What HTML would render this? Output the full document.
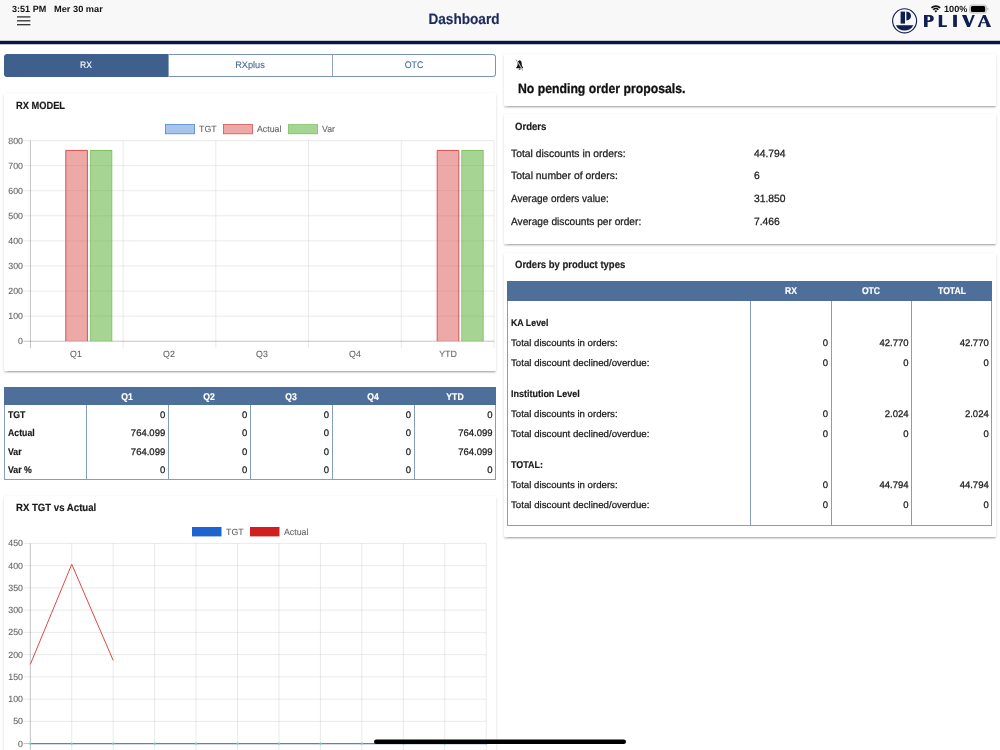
<!DOCTYPE html>
<html><head><meta charset="utf-8"><title>Dashboard</title>
<style>
*{box-sizing:border-box;margin:0;padding:0}
html,body{width:1000px;height:750px;overflow:hidden;background:#fff;font-family:"Liberation Sans",sans-serif;color:#111;text-rendering:geometricPrecision}
#w{position:absolute;left:0;top:0;width:1000px;height:750px;overflow:hidden;will-change:transform}
.abs{position:absolute}
.t{position:absolute;white-space:nowrap}
svg{font-family:"Liberation Sans",sans-serif;overflow:visible}
#hdr{position:absolute;left:0;top:0;width:1000px;height:41px;background:#f8f8f8}
.card{position:absolute;background:#fff;border-radius:1.5px;box-shadow:0 2px 1px -1.5px rgba(0,0,0,.14),0 1.5px 1.5px 0 rgba(0,0,0,.11),0 1px 3.5px 0 rgba(0,0,0,.11)}
#seg{position:absolute;left:4px;top:53.6px;width:492px;height:23.2px;box-shadow:inset 0 0 0 1px #7c93b9;border-radius:3.5px;overflow:hidden;background:#fff}
#seg div{position:absolute;top:0;height:23.2px}
</style></head><body><div id="w">
<div id="hdr"></div>
<svg class="abs" style="left:0;top:38px" width="1000" height="8" viewBox="0 38 1000 8"><rect x="0" y="40.8" width="1000" height="3.45" fill="#091545"/></svg>
<div class="t" style="top:3px;height:12px;line-height:12px;font-size:9.0px;color:#111;font-weight:bold;left:12.00px;transform-origin:0 50%;transform:scaleX(1.0055);">3:51 PM</div>
<div class="t" style="top:3px;height:12px;line-height:12px;font-size:9.0px;color:#111;font-weight:bold;left:53.60px;transform-origin:0 50%;transform:scaleX(1.0268);">Mer 30 mar</div>
<svg class="abs" style="left:16px;top:14px" width="16" height="13"><g stroke="#2a2a2a" stroke-width="1.25"><line x1="1" y1="2.9" x2="14.4" y2="2.9"/><line x1="1" y1="6.8" x2="14.4" y2="6.8"/><line x1="1" y1="10.7" x2="14.4" y2="10.7"/></g></svg>
<div class="t" style="top:10px;height:19px;line-height:19px;font-size:15.0px;color:#1b2a5a;font-weight:bold;-webkit-text-stroke:0.18px #1b2a5a;left:314.40px;width:300px;text-align:center;transform-origin:50% 50%;transform:scaleX(0.9062);">Dashboard</div>
<svg class="abs" style="left:928px;top:2px" width="64" height="14" viewBox="928 2 64 14">
  <g fill="none" stroke="#111" stroke-width="1.65">
   <path d="M931.45 7.95 A6.15 6.15 0 0 1 940.15 7.95"/>
   <path d="M933.22 9.72 A3.65 3.65 0 0 1 938.38 9.72"/>
  </g>
  <path d="M935.8 12.5 L934.35 11.05 A2.05 2.05 0 0 1 937.25 11.05 Z" fill="#111"/>
  <rect x="969.5" y="5" width="17" height="8" rx="2.4" fill="#e4e4e4" stroke="#bdbdbd" stroke-width="0.9"/>
  <rect x="970.9" y="6.05" width="14.3" height="5.9" rx="1.5" fill="#000"/>
  <rect x="987.4" y="7.7" width="1.1" height="2.7" rx=".55" fill="#bdbdbd"/>
 </svg>
<div class="t" style="top:3px;height:12px;line-height:12px;font-size:9.0px;color:#111;font-weight:bold;left:943.60px;transform-origin:0 50%;transform:scaleX(1.0166);">100%</div>
<svg class="abs" style="left:888px;top:4px" width="110" height="34" viewBox="888 4 110 34">
  <g fill="#101f52">
  <circle cx="904.6" cy="20.8" r="12" fill="none" stroke="#101f52" stroke-width="1.15"/>
  <rect x="900.6" y="11.6" width="4.4" height="12"/>
  <path d="M906.4 11.6 C909.4 11.7 911 13.6 911 16 C911 18.4 909.4 20.2 906.4 20.4 Z"/>
  <path d="M895.85 25.2 H913.35 A9.8 9.8 0 0 1 895.85 25.2 Z"/>
  <path d="M924.0 14.9 H929.4 C932.4 14.9 933.8 16.4 933.8 18.4 C933.8 20.6 932.2 21.9 929.2 21.9 H927.6 V26.95 H924.0 Z M927.6 16.4 V20.4 H928.3 C929.7 20.4 930.2 19.6 930.2 18.4 C930.2 17.2 929.7 16.4 928.3 16.4 Z" fill-rule="evenodd"/>
  <path d="M938.75 14.9 H942.2 V25.2 H946.4 L946.85 24.7 V26.95 H938.75 Z"/>
  <path d="M953.15 14.9 H956.9 V26.95 H953.15 Z"/>
  <path d="M961.95 15 H966.3 L969.35 23.3 L972.4 15 H974.8 L969.9 26.95 H967.2 Z"/>
  <path d="M977.7 26.95 L983 14.9 H985.6 L991.05 26.95 H986.6 L986 23.2 H981.1 L980.4 26.95 Z M983.5 17.65 L985.57 22.25 H981.52 Z" fill-rule="evenodd"/>
  </g>
 </svg>
<div id="seg">
 <div style="left:0;width:164.3px;background:#3f5f8c"></div>
 <div style="left:164.1px;width:1px;background:#8ba0c2"></div>
 <div style="left:328.1px;width:1px;background:#8ba0c2"></div>
</div>
<div class="t" style="top:59px;height:13px;line-height:13px;font-size:9.5px;color:#fff;-webkit-text-stroke:0.1px #fff;left:-63.70px;width:300px;text-align:center;transform-origin:50% 50%;transform:scaleX(0.9000);">RX</div>
<div class="t" style="top:59px;height:13px;line-height:13px;font-size:9.5px;color:#47689a;-webkit-text-stroke:0.1px #47689a;left:100.00px;width:300px;text-align:center;transform-origin:50% 50%;transform:scaleX(0.9700);">RXplus</div>
<div class="t" style="top:59px;height:13px;line-height:13px;font-size:9.5px;color:#47689a;-webkit-text-stroke:0.1px #47689a;left:264.20px;width:300px;text-align:center;transform-origin:50% 50%;transform:scaleX(0.9300);">OTC</div>
<div class="card" style="left:4px;top:93px;width:492px;height:277.7px"></div>
<div class="t" style="top:99px;height:14px;line-height:14px;font-size:10.5px;color:#1a1a1a;font-weight:bold;-webkit-text-stroke:0.18px #1a1a1a;left:16.00px;transform-origin:0 50%;transform:scaleX(0.8842);">RX MODEL</div>
<svg class="abs" style="left:0;top:110px" width="500" height="250" viewBox="0 110 500 250">
<line x1="23.5" y1="140.60" x2="494.0" y2="140.60" stroke="rgba(0,0,0,0.11)" stroke-width="0.8"/>
<line x1="23.5" y1="165.67" x2="494.0" y2="165.67" stroke="rgba(0,0,0,0.11)" stroke-width="0.8"/>
<line x1="23.5" y1="190.75" x2="494.0" y2="190.75" stroke="rgba(0,0,0,0.11)" stroke-width="0.8"/>
<line x1="23.5" y1="215.82" x2="494.0" y2="215.82" stroke="rgba(0,0,0,0.11)" stroke-width="0.8"/>
<line x1="23.5" y1="240.90" x2="494.0" y2="240.90" stroke="rgba(0,0,0,0.11)" stroke-width="0.8"/>
<line x1="23.5" y1="265.98" x2="494.0" y2="265.98" stroke="rgba(0,0,0,0.11)" stroke-width="0.8"/>
<line x1="23.5" y1="291.05" x2="494.0" y2="291.05" stroke="rgba(0,0,0,0.11)" stroke-width="0.8"/>
<line x1="23.5" y1="316.12" x2="494.0" y2="316.12" stroke="rgba(0,0,0,0.11)" stroke-width="0.8"/>
<line x1="123.12" y1="140.6" x2="123.12" y2="348.2" stroke="rgba(0,0,0,0.11)" stroke-width="0.8"/>
<line x1="215.84" y1="140.6" x2="215.84" y2="348.2" stroke="rgba(0,0,0,0.11)" stroke-width="0.8"/>
<line x1="308.56" y1="140.6" x2="308.56" y2="348.2" stroke="rgba(0,0,0,0.11)" stroke-width="0.8"/>
<line x1="401.28" y1="140.6" x2="401.28" y2="348.2" stroke="rgba(0,0,0,0.11)" stroke-width="0.8"/>
<line x1="494.00" y1="140.6" x2="494.00" y2="348.2" stroke="rgba(0,0,0,0.11)" stroke-width="0.8"/>
<line x1="30.4" y1="140.6" x2="30.4" y2="348.2" stroke="rgba(0,0,0,0.28)" stroke-width="0.85"/>
<line x1="23.5" y1="341.2" x2="494.0" y2="341.2" stroke="rgba(0,0,0,0.28)" stroke-width="0.85"/>
<rect x="65.80" y="150.0" width="21.60" height="191.20" fill="rgba(217,83,79,0.5)"/>
<path d="M65.80 341.2 V150.4 H87.40 V341.2" fill="none" stroke="#d9534f" stroke-width="1.0"/>
<rect x="90.30" y="150.0" width="21.60" height="191.20" fill="rgba(78,170,40,0.5)"/>
<path d="M90.30 341.2 V150.4 H111.90 V341.2" fill="none" stroke="rgba(78,170,40,0.62)" stroke-width="0.8"/>
<rect x="437.20" y="150.0" width="21.60" height="191.20" fill="rgba(217,83,79,0.5)"/>
<path d="M437.20 341.2 V150.4 H458.80 V341.2" fill="none" stroke="#d9534f" stroke-width="1.0"/>
<rect x="461.70" y="150.0" width="21.60" height="191.20" fill="rgba(78,170,40,0.5)"/>
<path d="M461.70 341.2 V150.4 H483.30 V341.2" fill="none" stroke="rgba(78,170,40,0.62)" stroke-width="0.8"/>
<rect x="165.4" y="124.6" width="29.2" height="9.2" fill="#a9c4ec" stroke="#4a86d8" stroke-width="0.8"/>
<rect x="223.4" y="124.6" width="29.2" height="9.2" fill="rgba(217,83,79,0.5)" stroke="#d9534f" stroke-width="0.8"/>
<rect x="288.4" y="124.6" width="29.2" height="9.2" fill="rgba(78,170,40,0.5)" stroke="rgba(78,170,40,0.62)" stroke-width="0.8"/>
</svg>
<div class="t" style="top:135px;height:12px;line-height:12px;font-size:9.0px;color:#666;-webkit-text-stroke:0.1px #666;right:977.30px;transform-origin:100% 50%;transform:scaleX(0.9780);">800</div>
<div class="t" style="top:160px;height:12px;line-height:12px;font-size:9.0px;color:#666;-webkit-text-stroke:0.1px #666;right:977.30px;transform-origin:100% 50%;transform:scaleX(0.9780);">700</div>
<div class="t" style="top:185px;height:12px;line-height:12px;font-size:9.0px;color:#666;-webkit-text-stroke:0.1px #666;right:977.30px;transform-origin:100% 50%;transform:scaleX(0.9780);">600</div>
<div class="t" style="top:210px;height:12px;line-height:12px;font-size:9.0px;color:#666;-webkit-text-stroke:0.1px #666;right:977.30px;transform-origin:100% 50%;transform:scaleX(0.9780);">500</div>
<div class="t" style="top:235px;height:12px;line-height:12px;font-size:9.0px;color:#666;-webkit-text-stroke:0.1px #666;right:977.30px;transform-origin:100% 50%;transform:scaleX(0.9780);">400</div>
<div class="t" style="top:260px;height:12px;line-height:12px;font-size:9.0px;color:#666;-webkit-text-stroke:0.1px #666;right:977.30px;transform-origin:100% 50%;transform:scaleX(0.9780);">300</div>
<div class="t" style="top:285px;height:12px;line-height:12px;font-size:9.0px;color:#666;-webkit-text-stroke:0.1px #666;right:977.30px;transform-origin:100% 50%;transform:scaleX(0.9780);">200</div>
<div class="t" style="top:310px;height:12px;line-height:12px;font-size:9.0px;color:#666;-webkit-text-stroke:0.1px #666;right:977.30px;transform-origin:100% 50%;transform:scaleX(0.9780);">100</div>
<div class="t" style="top:335px;height:12px;line-height:12px;font-size:9.0px;color:#666;-webkit-text-stroke:0.1px #666;right:977.30px;transform-origin:100% 50%;transform:scaleX(0.9780);">0</div>
<div class="t" style="top:348px;height:12px;line-height:12px;font-size:9.0px;color:#666;-webkit-text-stroke:0.1px #666;left:-73.54px;width:300px;text-align:center;transform-origin:50% 50%;transform:scaleX(0.9780);">Q1</div>
<div class="t" style="top:348px;height:12px;line-height:12px;font-size:9.0px;color:#666;-webkit-text-stroke:0.1px #666;left:19.18px;width:300px;text-align:center;transform-origin:50% 50%;transform:scaleX(0.9780);">Q2</div>
<div class="t" style="top:348px;height:12px;line-height:12px;font-size:9.0px;color:#666;-webkit-text-stroke:0.1px #666;left:111.90px;width:300px;text-align:center;transform-origin:50% 50%;transform:scaleX(0.9780);">Q3</div>
<div class="t" style="top:348px;height:12px;line-height:12px;font-size:9.0px;color:#666;-webkit-text-stroke:0.1px #666;left:204.62px;width:300px;text-align:center;transform-origin:50% 50%;transform:scaleX(0.9780);">Q4</div>
<div class="t" style="top:348px;height:12px;line-height:12px;font-size:9.0px;color:#666;-webkit-text-stroke:0.1px #666;left:298.14px;width:300px;text-align:center;transform-origin:50% 50%;transform:scaleX(0.9780);">YTD</div>
<div class="t" style="top:123px;height:12px;line-height:12px;font-size:9.0px;color:#666;-webkit-text-stroke:0.1px #666;left:199.00px;transform-origin:0 50%;transform:scaleX(0.9780);">TGT</div>
<div class="t" style="top:123px;height:12px;line-height:12px;font-size:9.0px;color:#666;-webkit-text-stroke:0.1px #666;left:256.70px;transform-origin:0 50%;transform:scaleX(0.9780);">Actual</div>
<div class="t" style="top:123px;height:12px;line-height:12px;font-size:9.0px;color:#666;-webkit-text-stroke:0.1px #666;left:322.00px;transform-origin:0 50%;transform:scaleX(0.9780);">Var</div>
<div class="abs" style="left:4px;top:386.6px;width:492px;height:18.4px;background:#4f6f9b"></div>
<div class="abs" style="left:4px;top:405px;width:492px;height:74.5px;border:1px solid #859cc3;border-top:none"></div>
<div class="abs" style="left:86.3px;top:405px;width:1px;height:74px;background:#859cc3"></div>
<div class="abs" style="left:168.3px;top:405px;width:1px;height:74px;background:#859cc3"></div>
<div class="abs" style="left:250.3px;top:405px;width:1px;height:74px;background:#859cc3"></div>
<div class="abs" style="left:331.8px;top:405px;width:1px;height:74px;background:#859cc3"></div>
<div class="abs" style="left:413.8px;top:405px;width:1px;height:74px;background:#859cc3"></div>
<div class="t" style="top:391px;height:13px;line-height:13px;font-size:9.8px;color:#fff;font-weight:bold;-webkit-text-stroke:0.18px #fff;left:-23.00px;width:300px;text-align:center;transform-origin:50% 50%;transform:scaleX(0.8800);">Q1</div>
<div class="t" style="top:391px;height:13px;line-height:13px;font-size:9.8px;color:#fff;font-weight:bold;-webkit-text-stroke:0.18px #fff;left:59.00px;width:300px;text-align:center;transform-origin:50% 50%;transform:scaleX(0.8800);">Q2</div>
<div class="t" style="top:391px;height:13px;line-height:13px;font-size:9.8px;color:#fff;font-weight:bold;-webkit-text-stroke:0.18px #fff;left:141.00px;width:300px;text-align:center;transform-origin:50% 50%;transform:scaleX(0.8800);">Q3</div>
<div class="t" style="top:391px;height:13px;line-height:13px;font-size:9.8px;color:#fff;font-weight:bold;-webkit-text-stroke:0.18px #fff;left:223.00px;width:300px;text-align:center;transform-origin:50% 50%;transform:scaleX(0.8800);">Q4</div>
<div class="t" style="top:391px;height:13px;line-height:13px;font-size:9.8px;color:#fff;font-weight:bold;-webkit-text-stroke:0.18px #fff;left:305.00px;width:300px;text-align:center;transform-origin:50% 50%;transform:scaleX(0.8800);">YTD</div>
<div class="t" style="top:409px;height:13px;line-height:13px;font-size:9.8px;color:#1a1a1a;font-weight:bold;-webkit-text-stroke:0.18px #1a1a1a;left:7.70px;transform-origin:0 50%;transform:scaleX(0.8900);">TGT</div>
<div class="t" style="top:409px;height:13px;line-height:13px;font-size:9.5px;color:#1a1a1a;-webkit-text-stroke:0.25px #1a1a1a;right:834.80px;transform-origin:100% 50%;">0</div>
<div class="t" style="top:409px;height:13px;line-height:13px;font-size:9.5px;color:#1a1a1a;-webkit-text-stroke:0.25px #1a1a1a;right:752.80px;transform-origin:100% 50%;">0</div>
<div class="t" style="top:409px;height:13px;line-height:13px;font-size:9.5px;color:#1a1a1a;-webkit-text-stroke:0.25px #1a1a1a;right:671.00px;transform-origin:100% 50%;">0</div>
<div class="t" style="top:409px;height:13px;line-height:13px;font-size:9.5px;color:#1a1a1a;-webkit-text-stroke:0.25px #1a1a1a;right:589.00px;transform-origin:100% 50%;">0</div>
<div class="t" style="top:409px;height:13px;line-height:13px;font-size:9.5px;color:#1a1a1a;-webkit-text-stroke:0.25px #1a1a1a;right:507.40px;transform-origin:100% 50%;">0</div>
<div class="t" style="top:427px;height:13px;line-height:13px;font-size:9.8px;color:#1a1a1a;font-weight:bold;-webkit-text-stroke:0.18px #1a1a1a;left:7.70px;transform-origin:0 50%;transform:scaleX(0.8900);">Actual</div>
<div class="t" style="top:427px;height:13px;line-height:13px;font-size:9.5px;color:#1a1a1a;-webkit-text-stroke:0.25px #1a1a1a;right:834.80px;transform-origin:100% 50%;">764.099</div>
<div class="t" style="top:427px;height:13px;line-height:13px;font-size:9.5px;color:#1a1a1a;-webkit-text-stroke:0.25px #1a1a1a;right:752.80px;transform-origin:100% 50%;">0</div>
<div class="t" style="top:427px;height:13px;line-height:13px;font-size:9.5px;color:#1a1a1a;-webkit-text-stroke:0.25px #1a1a1a;right:671.00px;transform-origin:100% 50%;">0</div>
<div class="t" style="top:427px;height:13px;line-height:13px;font-size:9.5px;color:#1a1a1a;-webkit-text-stroke:0.25px #1a1a1a;right:589.00px;transform-origin:100% 50%;">0</div>
<div class="t" style="top:427px;height:13px;line-height:13px;font-size:9.5px;color:#1a1a1a;-webkit-text-stroke:0.25px #1a1a1a;right:507.40px;transform-origin:100% 50%;">764.099</div>
<div class="t" style="top:446px;height:13px;line-height:13px;font-size:9.8px;color:#1a1a1a;font-weight:bold;-webkit-text-stroke:0.18px #1a1a1a;left:7.70px;transform-origin:0 50%;transform:scaleX(0.8900);">Var</div>
<div class="t" style="top:446px;height:13px;line-height:13px;font-size:9.5px;color:#1a1a1a;-webkit-text-stroke:0.25px #1a1a1a;right:834.80px;transform-origin:100% 50%;">764.099</div>
<div class="t" style="top:446px;height:13px;line-height:13px;font-size:9.5px;color:#1a1a1a;-webkit-text-stroke:0.25px #1a1a1a;right:752.80px;transform-origin:100% 50%;">0</div>
<div class="t" style="top:446px;height:13px;line-height:13px;font-size:9.5px;color:#1a1a1a;-webkit-text-stroke:0.25px #1a1a1a;right:671.00px;transform-origin:100% 50%;">0</div>
<div class="t" style="top:446px;height:13px;line-height:13px;font-size:9.5px;color:#1a1a1a;-webkit-text-stroke:0.25px #1a1a1a;right:589.00px;transform-origin:100% 50%;">0</div>
<div class="t" style="top:446px;height:13px;line-height:13px;font-size:9.5px;color:#1a1a1a;-webkit-text-stroke:0.25px #1a1a1a;right:507.40px;transform-origin:100% 50%;">764.099</div>
<div class="t" style="top:464px;height:13px;line-height:13px;font-size:9.8px;color:#1a1a1a;font-weight:bold;-webkit-text-stroke:0.18px #1a1a1a;left:7.70px;transform-origin:0 50%;transform:scaleX(0.8900);">Var %</div>
<div class="t" style="top:464px;height:13px;line-height:13px;font-size:9.5px;color:#1a1a1a;-webkit-text-stroke:0.25px #1a1a1a;right:834.80px;transform-origin:100% 50%;">0</div>
<div class="t" style="top:464px;height:13px;line-height:13px;font-size:9.5px;color:#1a1a1a;-webkit-text-stroke:0.25px #1a1a1a;right:752.80px;transform-origin:100% 50%;">0</div>
<div class="t" style="top:464px;height:13px;line-height:13px;font-size:9.5px;color:#1a1a1a;-webkit-text-stroke:0.25px #1a1a1a;right:671.00px;transform-origin:100% 50%;">0</div>
<div class="t" style="top:464px;height:13px;line-height:13px;font-size:9.5px;color:#1a1a1a;-webkit-text-stroke:0.25px #1a1a1a;right:589.00px;transform-origin:100% 50%;">0</div>
<div class="t" style="top:464px;height:13px;line-height:13px;font-size:9.5px;color:#1a1a1a;-webkit-text-stroke:0.25px #1a1a1a;right:507.40px;transform-origin:100% 50%;">0</div>
<div class="card" style="left:4px;top:496px;width:492px;height:270px"></div>
<div class="t" style="top:501px;height:14px;line-height:14px;font-size:10.5px;color:#1a1a1a;font-weight:bold;-webkit-text-stroke:0.18px #1a1a1a;left:16.00px;transform-origin:0 50%;transform:scaleX(0.9144);">RX TGT vs Actual</div>
<svg class="abs" style="left:0;top:520px" width="500" height="230" viewBox="0 520 500 230">
<line x1="23.5" y1="543.40" x2="486.2" y2="543.40" stroke="rgba(0,0,0,0.11)" stroke-width="0.8"/>
<line x1="23.5" y1="565.64" x2="486.2" y2="565.64" stroke="rgba(0,0,0,0.11)" stroke-width="0.8"/>
<line x1="23.5" y1="587.89" x2="486.2" y2="587.89" stroke="rgba(0,0,0,0.11)" stroke-width="0.8"/>
<line x1="23.5" y1="610.13" x2="486.2" y2="610.13" stroke="rgba(0,0,0,0.11)" stroke-width="0.8"/>
<line x1="23.5" y1="632.38" x2="486.2" y2="632.38" stroke="rgba(0,0,0,0.11)" stroke-width="0.8"/>
<line x1="23.5" y1="654.62" x2="486.2" y2="654.62" stroke="rgba(0,0,0,0.11)" stroke-width="0.8"/>
<line x1="23.5" y1="676.87" x2="486.2" y2="676.87" stroke="rgba(0,0,0,0.11)" stroke-width="0.8"/>
<line x1="23.5" y1="699.11" x2="486.2" y2="699.11" stroke="rgba(0,0,0,0.11)" stroke-width="0.8"/>
<line x1="23.5" y1="721.36" x2="486.2" y2="721.36" stroke="rgba(0,0,0,0.11)" stroke-width="0.8"/>
<line x1="71.75" y1="543.4" x2="71.75" y2="750" stroke="rgba(0,0,0,0.11)" stroke-width="0.8"/>
<line x1="113.19" y1="543.4" x2="113.19" y2="750" stroke="rgba(0,0,0,0.11)" stroke-width="0.8"/>
<line x1="154.64" y1="543.4" x2="154.64" y2="750" stroke="rgba(0,0,0,0.11)" stroke-width="0.8"/>
<line x1="196.08" y1="543.4" x2="196.08" y2="750" stroke="rgba(0,0,0,0.11)" stroke-width="0.8"/>
<line x1="237.53" y1="543.4" x2="237.53" y2="750" stroke="rgba(0,0,0,0.11)" stroke-width="0.8"/>
<line x1="278.97" y1="543.4" x2="278.97" y2="750" stroke="rgba(0,0,0,0.11)" stroke-width="0.8"/>
<line x1="320.42" y1="543.4" x2="320.42" y2="750" stroke="rgba(0,0,0,0.11)" stroke-width="0.8"/>
<line x1="361.86" y1="543.4" x2="361.86" y2="750" stroke="rgba(0,0,0,0.11)" stroke-width="0.8"/>
<line x1="403.31" y1="543.4" x2="403.31" y2="750" stroke="rgba(0,0,0,0.11)" stroke-width="0.8"/>
<line x1="444.75" y1="543.4" x2="444.75" y2="750" stroke="rgba(0,0,0,0.11)" stroke-width="0.8"/>
<line x1="486.20" y1="543.4" x2="486.20" y2="750" stroke="rgba(0,0,0,0.11)" stroke-width="0.8"/>
<line x1="30.3" y1="543.4" x2="30.3" y2="750" stroke="rgba(0,0,0,0.28)" stroke-width="0.85"/>
<line x1="23.5" y1="743.6" x2="486.2" y2="743.6" stroke="rgba(0,0,0,0.28)" stroke-width="0.85"/>
<line x1="30.3" y1="743.6" x2="486.2" y2="743.6" stroke="#4f84d6" stroke-width="1.15"/>
<circle cx="30.30" cy="743.6" r="1.05" fill="#62cfc6"/>
<circle cx="71.75" cy="743.6" r="1.05" fill="#62cfc6"/>
<circle cx="113.19" cy="743.6" r="1.05" fill="#62cfc6"/>
<circle cx="154.64" cy="743.6" r="1.05" fill="#62cfc6"/>
<circle cx="196.08" cy="743.6" r="1.05" fill="#62cfc6"/>
<circle cx="237.53" cy="743.6" r="1.05" fill="#62cfc6"/>
<circle cx="278.97" cy="743.6" r="1.05" fill="#62cfc6"/>
<circle cx="320.42" cy="743.6" r="1.05" fill="#62cfc6"/>
<circle cx="361.86" cy="743.6" r="1.05" fill="#62cfc6"/>
<circle cx="403.31" cy="743.6" r="1.05" fill="#62cfc6"/>
<circle cx="444.75" cy="743.6" r="1.05" fill="#62cfc6"/>
<circle cx="486.20" cy="743.6" r="1.05" fill="#62cfc6"/>
<polyline fill="none" stroke="#dc4a44" stroke-width="1" stroke-linejoin="round" points="30.30,664.41 71.75,564.31 113.19,660.41"/>
<rect x="192" y="527" width="29.5" height="9.4" fill="#1f63cf"/>
<rect x="250" y="527" width="29.5" height="9.4" fill="#cf1f1f"/>
</svg>
<div class="t" style="top:537px;height:12px;line-height:12px;font-size:9.0px;color:#666;-webkit-text-stroke:0.1px #666;right:977.30px;transform-origin:100% 50%;transform:scaleX(0.9780);">450</div>
<div class="t" style="top:560px;height:12px;line-height:12px;font-size:9.0px;color:#666;-webkit-text-stroke:0.1px #666;right:977.30px;transform-origin:100% 50%;transform:scaleX(0.9780);">400</div>
<div class="t" style="top:582px;height:12px;line-height:12px;font-size:9.0px;color:#666;-webkit-text-stroke:0.1px #666;right:977.30px;transform-origin:100% 50%;transform:scaleX(0.9780);">350</div>
<div class="t" style="top:604px;height:12px;line-height:12px;font-size:9.0px;color:#666;-webkit-text-stroke:0.1px #666;right:977.30px;transform-origin:100% 50%;transform:scaleX(0.9780);">300</div>
<div class="t" style="top:626px;height:12px;line-height:12px;font-size:9.0px;color:#666;-webkit-text-stroke:0.1px #666;right:977.30px;transform-origin:100% 50%;transform:scaleX(0.9780);">250</div>
<div class="t" style="top:649px;height:12px;line-height:12px;font-size:9.0px;color:#666;-webkit-text-stroke:0.1px #666;right:977.30px;transform-origin:100% 50%;transform:scaleX(0.9780);">200</div>
<div class="t" style="top:671px;height:12px;line-height:12px;font-size:9.0px;color:#666;-webkit-text-stroke:0.1px #666;right:977.30px;transform-origin:100% 50%;transform:scaleX(0.9780);">150</div>
<div class="t" style="top:693px;height:12px;line-height:12px;font-size:9.0px;color:#666;-webkit-text-stroke:0.1px #666;right:977.30px;transform-origin:100% 50%;transform:scaleX(0.9780);">100</div>
<div class="t" style="top:715px;height:12px;line-height:12px;font-size:9.0px;color:#666;-webkit-text-stroke:0.1px #666;right:977.30px;transform-origin:100% 50%;transform:scaleX(0.9780);">50</div>
<div class="t" style="top:738px;height:12px;line-height:12px;font-size:9.0px;color:#666;-webkit-text-stroke:0.1px #666;right:977.30px;transform-origin:100% 50%;transform:scaleX(0.9780);">0</div>
<div class="t" style="top:526px;height:12px;line-height:12px;font-size:9.0px;color:#666;-webkit-text-stroke:0.1px #666;left:226.00px;transform-origin:0 50%;transform:scaleX(0.9780);">TGT</div>
<div class="t" style="top:526px;height:12px;line-height:12px;font-size:9.0px;color:#666;-webkit-text-stroke:0.1px #666;left:283.50px;transform-origin:0 50%;transform:scaleX(0.9780);">Actual</div>
<div class="card" style="left:504px;top:54px;width:492px;height:51.7px"></div>
<svg class="abs" style="left:514px;top:58px" width="12" height="14" viewBox="514 58 12 14"><path d="M519.6 60.2 C518.2 60.5 517.7 61.7 517.7 63 C517.7 65.2 517.2 66.5 516.2 67.4 V68.2 H523.1 V67.4 C522.1 66.5 521.6 65.2 521.6 63 C521.6 61.7 521.1 60.5 519.6 60.2 Z M518.7 68.7 A0.95 0.95 0 0 0 520.6 68.7 Z" fill="#111"/><line x1="515.9" y1="59.5" x2="522.8" y2="70.8" stroke="#777" stroke-width="0.7"/><line x1="516.9" y1="60.3" x2="522.4" y2="69.3" stroke="#d4d4d4" stroke-width="0.85"/></svg>
<div class="t" style="top:80px;height:17px;line-height:17px;font-size:13.5px;color:#111;font-weight:bold;-webkit-text-stroke:0.3px #111;left:518.20px;transform-origin:0 50%;transform:scaleX(0.9073);">No pending order proposals.</div>
<div class="card" style="left:504px;top:114.3px;width:492px;height:129.7px"></div>
<div class="t" style="top:120px;height:14px;line-height:14px;font-size:10.5px;color:#1a1a1a;font-weight:bold;-webkit-text-stroke:0.18px #1a1a1a;left:515.20px;transform-origin:0 50%;transform:scaleX(0.9090);">Orders</div>
<div class="t" style="top:147px;height:14px;line-height:14px;font-size:10.5px;color:#1a1a1a;-webkit-text-stroke:0.25px #1a1a1a;left:510.80px;transform-origin:0 50%;transform:scaleX(0.9867);">Total discounts in orders:</div>
<div class="t" style="top:147px;height:14px;line-height:14px;font-size:10.5px;color:#1a1a1a;-webkit-text-stroke:0.25px #1a1a1a;left:753.50px;transform-origin:0 50%;transform:scaleX(0.9840);">44.794</div>
<div class="t" style="top:169px;height:14px;line-height:14px;font-size:10.5px;color:#1a1a1a;-webkit-text-stroke:0.25px #1a1a1a;left:510.80px;transform-origin:0 50%;transform:scaleX(0.9892);">Total number of orders:</div>
<div class="t" style="top:169px;height:14px;line-height:14px;font-size:10.5px;color:#1a1a1a;-webkit-text-stroke:0.25px #1a1a1a;left:753.50px;transform-origin:0 50%;transform:scaleX(0.9840);">6</div>
<div class="t" style="top:192px;height:14px;line-height:14px;font-size:10.5px;color:#1a1a1a;-webkit-text-stroke:0.25px #1a1a1a;left:510.80px;transform-origin:0 50%;transform:scaleX(0.9538);">Average orders value:</div>
<div class="t" style="top:192px;height:14px;line-height:14px;font-size:10.5px;color:#1a1a1a;-webkit-text-stroke:0.25px #1a1a1a;left:753.50px;transform-origin:0 50%;transform:scaleX(0.9840);">31.850</div>
<div class="t" style="top:215px;height:14px;line-height:14px;font-size:10.5px;color:#1a1a1a;-webkit-text-stroke:0.25px #1a1a1a;left:510.80px;transform-origin:0 50%;transform:scaleX(0.9671);">Average discounts per order:</div>
<div class="t" style="top:215px;height:14px;line-height:14px;font-size:10.5px;color:#1a1a1a;-webkit-text-stroke:0.25px #1a1a1a;left:753.50px;transform-origin:0 50%;transform:scaleX(0.9840);">7.466</div>
<div class="card" style="left:504px;top:252.6px;width:492px;height:284.8px"></div>
<div class="t" style="top:258px;height:14px;line-height:14px;font-size:10.5px;color:#1a1a1a;font-weight:bold;-webkit-text-stroke:0.18px #1a1a1a;left:515.20px;transform-origin:0 50%;transform:scaleX(0.9037);">Orders by product types</div>
<div class="abs" style="left:507.3px;top:280.6px;width:485px;height:20px;background:#4f6f9b"></div>
<div class="abs" style="left:507.3px;top:300.6px;width:485px;height:225.8px;border:1px solid #859cc3;border-top:none"></div>
<div class="abs" style="left:750.2px;top:300.6px;width:1px;height:225.6px;background:#859cc3"></div>
<div class="abs" style="left:830.6px;top:300.6px;width:1px;height:225.6px;background:#859cc3"></div>
<div class="abs" style="left:911.2px;top:300.6px;width:1px;height:225.6px;background:#859cc3"></div>
<div class="t" style="top:285px;height:13px;line-height:13px;font-size:9.8px;color:#fff;font-weight:bold;-webkit-text-stroke:0.18px #fff;left:640.60px;width:300px;text-align:center;transform-origin:50% 50%;transform:scaleX(0.8800);">RX</div>
<div class="t" style="top:285px;height:13px;line-height:13px;font-size:9.8px;color:#fff;font-weight:bold;-webkit-text-stroke:0.18px #fff;left:721.20px;width:300px;text-align:center;transform-origin:50% 50%;transform:scaleX(0.8800);">OTC</div>
<div class="t" style="top:285px;height:13px;line-height:13px;font-size:9.8px;color:#fff;font-weight:bold;-webkit-text-stroke:0.18px #fff;left:801.80px;width:300px;text-align:center;transform-origin:50% 50%;transform:scaleX(0.8800);">TOTAL</div>
<div class="t" style="top:317px;height:13px;line-height:13px;font-size:9.8px;color:#1a1a1a;font-weight:bold;-webkit-text-stroke:0.18px #1a1a1a;left:511.20px;transform-origin:0 50%;transform:scaleX(0.8996);">KA Level</div>
<div class="t" style="top:337px;height:13px;line-height:13px;font-size:9.5px;color:#1a1a1a;-webkit-text-stroke:0.25px #1a1a1a;left:511.20px;transform-origin:0 50%;transform:scaleX(1.0145);">Total discounts in orders:</div>
<div class="t" style="top:337px;height:13px;line-height:13px;font-size:9.5px;color:#1a1a1a;-webkit-text-stroke:0.25px #1a1a1a;right:172.00px;transform-origin:100% 50%;">0</div>
<div class="t" style="top:337px;height:13px;line-height:13px;font-size:9.5px;color:#1a1a1a;-webkit-text-stroke:0.25px #1a1a1a;right:91.50px;transform-origin:100% 50%;">42.770</div>
<div class="t" style="top:337px;height:13px;line-height:13px;font-size:9.5px;color:#1a1a1a;-webkit-text-stroke:0.25px #1a1a1a;right:11.30px;transform-origin:100% 50%;">42.770</div>
<div class="t" style="top:357px;height:13px;line-height:13px;font-size:9.5px;color:#1a1a1a;-webkit-text-stroke:0.25px #1a1a1a;left:511.20px;transform-origin:0 50%;transform:scaleX(1.0197);">Total discount declined/overdue:</div>
<div class="t" style="top:357px;height:13px;line-height:13px;font-size:9.5px;color:#1a1a1a;-webkit-text-stroke:0.25px #1a1a1a;right:172.00px;transform-origin:100% 50%;">0</div>
<div class="t" style="top:357px;height:13px;line-height:13px;font-size:9.5px;color:#1a1a1a;-webkit-text-stroke:0.25px #1a1a1a;right:91.50px;transform-origin:100% 50%;">0</div>
<div class="t" style="top:357px;height:13px;line-height:13px;font-size:9.5px;color:#1a1a1a;-webkit-text-stroke:0.25px #1a1a1a;right:11.30px;transform-origin:100% 50%;">0</div>
<div class="t" style="top:388px;height:13px;line-height:13px;font-size:9.8px;color:#1a1a1a;font-weight:bold;-webkit-text-stroke:0.18px #1a1a1a;left:511.20px;transform-origin:0 50%;transform:scaleX(0.9157);">Institution Level</div>
<div class="t" style="top:408px;height:13px;line-height:13px;font-size:9.5px;color:#1a1a1a;-webkit-text-stroke:0.25px #1a1a1a;left:511.20px;transform-origin:0 50%;transform:scaleX(1.0145);">Total discounts in orders:</div>
<div class="t" style="top:408px;height:13px;line-height:13px;font-size:9.5px;color:#1a1a1a;-webkit-text-stroke:0.25px #1a1a1a;right:172.00px;transform-origin:100% 50%;">0</div>
<div class="t" style="top:408px;height:13px;line-height:13px;font-size:9.5px;color:#1a1a1a;-webkit-text-stroke:0.25px #1a1a1a;right:91.50px;transform-origin:100% 50%;">2.024</div>
<div class="t" style="top:408px;height:13px;line-height:13px;font-size:9.5px;color:#1a1a1a;-webkit-text-stroke:0.25px #1a1a1a;right:11.30px;transform-origin:100% 50%;">2.024</div>
<div class="t" style="top:428px;height:13px;line-height:13px;font-size:9.5px;color:#1a1a1a;-webkit-text-stroke:0.25px #1a1a1a;left:511.20px;transform-origin:0 50%;transform:scaleX(1.0197);">Total discount declined/overdue:</div>
<div class="t" style="top:428px;height:13px;line-height:13px;font-size:9.5px;color:#1a1a1a;-webkit-text-stroke:0.25px #1a1a1a;right:172.00px;transform-origin:100% 50%;">0</div>
<div class="t" style="top:428px;height:13px;line-height:13px;font-size:9.5px;color:#1a1a1a;-webkit-text-stroke:0.25px #1a1a1a;right:91.50px;transform-origin:100% 50%;">0</div>
<div class="t" style="top:428px;height:13px;line-height:13px;font-size:9.5px;color:#1a1a1a;-webkit-text-stroke:0.25px #1a1a1a;right:11.30px;transform-origin:100% 50%;">0</div>
<div class="t" style="top:459px;height:13px;line-height:13px;font-size:9.8px;color:#1a1a1a;font-weight:bold;-webkit-text-stroke:0.18px #1a1a1a;left:511.20px;transform-origin:0 50%;transform:scaleX(0.9138);">TOTAL:</div>
<div class="t" style="top:479px;height:13px;line-height:13px;font-size:9.5px;color:#1a1a1a;-webkit-text-stroke:0.25px #1a1a1a;left:511.20px;transform-origin:0 50%;transform:scaleX(1.0145);">Total discounts in orders:</div>
<div class="t" style="top:479px;height:13px;line-height:13px;font-size:9.5px;color:#1a1a1a;-webkit-text-stroke:0.25px #1a1a1a;right:172.00px;transform-origin:100% 50%;">0</div>
<div class="t" style="top:479px;height:13px;line-height:13px;font-size:9.5px;color:#1a1a1a;-webkit-text-stroke:0.25px #1a1a1a;right:91.50px;transform-origin:100% 50%;">44.794</div>
<div class="t" style="top:479px;height:13px;line-height:13px;font-size:9.5px;color:#1a1a1a;-webkit-text-stroke:0.25px #1a1a1a;right:11.30px;transform-origin:100% 50%;">44.794</div>
<div class="t" style="top:499px;height:13px;line-height:13px;font-size:9.5px;color:#1a1a1a;-webkit-text-stroke:0.25px #1a1a1a;left:511.20px;transform-origin:0 50%;transform:scaleX(1.0197);">Total discount declined/overdue:</div>
<div class="t" style="top:499px;height:13px;line-height:13px;font-size:9.5px;color:#1a1a1a;-webkit-text-stroke:0.25px #1a1a1a;right:172.00px;transform-origin:100% 50%;">0</div>
<div class="t" style="top:499px;height:13px;line-height:13px;font-size:9.5px;color:#1a1a1a;-webkit-text-stroke:0.25px #1a1a1a;right:91.50px;transform-origin:100% 50%;">0</div>
<div class="t" style="top:499px;height:13px;line-height:13px;font-size:9.5px;color:#1a1a1a;-webkit-text-stroke:0.25px #1a1a1a;right:11.30px;transform-origin:100% 50%;">0</div>
<svg class="abs" style="left:370px;top:736px" width="260" height="12" viewBox="370 736 260 12"><rect x="374" y="739.5" width="252" height="4.5" rx="2.25" fill="#000"/></svg>
</div></body></html>
